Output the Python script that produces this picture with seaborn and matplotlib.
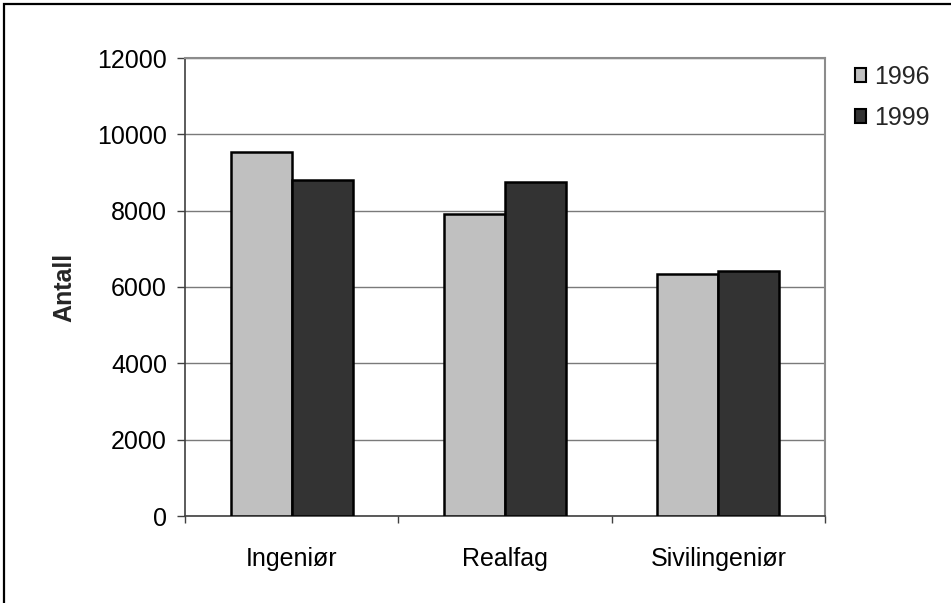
import matplotlib
matplotlib.use("Agg")
import matplotlib.pyplot as plt
from matplotlib.patches import Rectangle, Patch
import pandas as pd
import seaborn as sns

categories = ["Ingeniør", "Realfag", "Sivilingeniør"]
years = ["1996", "1999"]
values_1996 = [9540, 7910, 6350]
values_1999 = [8800, 8750, 6430]
y_ticks = [0, 2000, 4000, 6000, 8000, 10000, 12000]

df = pd.DataFrame({
    "Kategori": categories * 2,
    "År": [years[0]] * 3 + [years[1]] * 3,
    "Antall": values_1996 + values_1999,
})

sns.set_theme(style="white")
plt.rcParams["font.family"] = ["Liberation Sans", "DejaVu Sans"]

colors = {"1996": "#c0c0c0", "1999": "#333333"}

fig = plt.figure(figsize=(9.51, 6.03), dpi=100)
ax = fig.add_axes([185 / 951, 87 / 603, 640 / 951, 458 / 603])

sns.barplot(data=df, x="Kategori", y="Antall", hue="År", hue_order=years,
            palette=colors, width=0.572, edgecolor="black", linewidth=1.8,
            saturation=1, ax=ax, legend=False, zorder=3)

ax.set_xlim(-0.5, 2.5)
ax.set_ylim(0, 12000)
ax.set_yticks(y_ticks)
ax.set_yticklabels([str(t) for t in y_ticks], fontsize=18, color="black")
ax.yaxis.grid(True, color="#7a7a7a", linewidth=1.0, zorder=0)
ax.set_axisbelow(True)

# category boundaries carry the x tick marks
ax.set_xticks([-0.5, 0.5, 1.5, 2.5], minor=False)
ax.set_xticklabels([])
ax.set_xticks([0, 1, 2], minor=True)
ax.set_xticklabels(categories, minor=True, fontsize=18, color="black")
ax.tick_params(axis="x", which="major", direction="out", length=5, width=1,
               color="#404040", bottom=True)
ax.tick_params(axis="x", which="minor", length=0, pad=22)
ax.tick_params(axis="y", direction="out", length=6, width=1, color="#404040",
               left=True, pad=7)

ax.set_xlabel("")
ax.set_ylabel("Antall", fontsize=18, fontweight="bold", labelpad=15)

for side in ["left", "bottom"]:
    ax.spines[side].set_color("#404040")
    ax.spines[side].set_linewidth(1.2)
for side in ["top", "right"]:
    ax.spines[side].set_visible(True)
    ax.spines[side].set_color("#8c8c8c")
    ax.spines[side].set_linewidth(1.5)

handles = [Patch(facecolor=colors[y], edgecolor="black", linewidth=1.5, label=y)
           for y in years]
fig.legend(handles=handles, loc="upper left", bbox_to_anchor=(855 / 951, 1 - 65 / 603),
           frameon=False, fontsize=18, handlelength=0.45, handleheight=0.45,
           handletextpad=0.3, labelspacing=0.68, borderaxespad=0, borderpad=0)

# outer chart frame
fig.patches.append(Rectangle((4 / 951, -0.05), 1.2, 1 - 4 / 603 + 0.05,
                             transform=fig.transFigure, fill=False,
                             edgecolor="black", linewidth=1.6))

fig.savefig("out.png", dpi=100)
